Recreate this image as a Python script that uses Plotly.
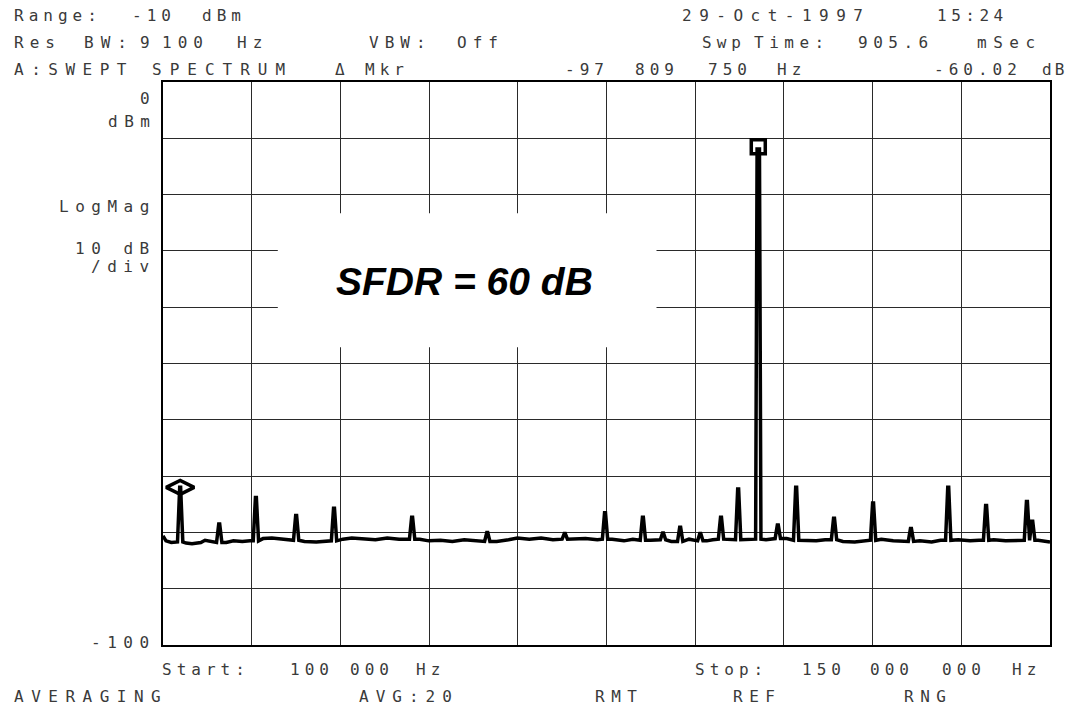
import plotly.graph_objects as go

# ---------------- data ----------------
floor_freq_mhz = [0.1, 0.6, 1.5, 2.2, 4.0, 5.0, 6.5, 7.2, 8.3, 10.8, 12.0, 13.5, 14.8, 17.0,
                  18.5, 20.0, 21.5, 24.0, 26.0, 27.5, 30.5, 32.0, 34.0, 36.0, 38.0, 40.0,
                  43.5, 45.0, 47.0, 49.0, 51.0, 53.0, 56.5, 58.5, 60.0, 62.0, 64.0, 66.0,
                  69.5, 71.5, 73.5, 76.0, 78.0, 79.5, 82.5, 83.5, 86.0, 89.0, 92.0, 93.0,
                  95.5, 98.5, 99.5, 102.0, 105.5, 108.5, 110.5, 112.0, 115.0, 117.0, 119.0,
                  121.5, 123.5, 125.0, 128.0, 130.0, 131.5, 134.5, 136.5, 138.0, 140.5,
                  142.5, 144.5, 148.0, 149.0, 150.0]
floor_dbm = [-80.6, -81.5, -81.8, -81.7, -81.9, -82.0, -81.8, -81.4, -81.7, -81.8, -81.5,
             -81.6, -81.5, -81.1, -81.0, -81.2, -81.4, -81.6, -81.7, -81.5, -81.2, -81.0,
             -81.1, -81.3, -81.0, -81.2, -81.2, -81.5, -81.4, -81.6, -81.3, -81.5, -81.6,
             -81.3, -81.0, -81.2, -81.0, -81.3, -81.2, -81.1, -81.3, -81.2, -81.5, -81.2,
             -81.4, -81.3, -81.6, -81.2, -81.5, -81.3, -81.2, -81.3, -81.2, -81.3, -81.1,
             -81.4, -81.5, -81.3, -81.6, -81.7, -81.4, -81.2, -81.5, -81.6, -81.5, -81.7,
             -81.4, -81.3, -81.5, -81.4, -81.3, -81.5, -81.4, -81.4, -81.6, -81.7]

spur_freq_mhz = [3.0, 9.6, 15.8, 22.6, 29.0, 42.2, 54.9, 68.0, 74.8, 81.2, 84.6, 87.5,
                 90.9, 94.4, 97.3, 104.0, 107.1, 113.5, 120.1, 126.5, 132.8, 139.2,
                 146.1, 147.0]
spur_dbm = [-72.0, -78.5, -73.8, -77.0, -75.7, -77.3, -80.0, -80.2, -76.5, -77.3, -80.1,
            -79.1, -80.2, -77.3, -72.3, -78.7, -72.0, -77.5, -74.8, -79.3, -72.0, -75.2,
            -74.5, -78.0]

carrier_freq_mhz = 100.7
carrier_dbm = -11.9

delta_marker_freq_mhz = 3.0
delta_marker_dbm = -72.0

start_mhz, stop_mhz = 0.1, 150.0
ref_dbm, bottom_dbm = 0, -100

# ---------------- build trace ----------------
def nearest_floor(f):
    i = min(range(len(floor_freq_mhz)), key=lambda k: abs(floor_freq_mhz[k] - f))
    return floor_dbm[i]

pts = list(zip(floor_freq_mhz, floor_dbm))
for f, lvl in zip(spur_freq_mhz, spur_dbm):
    b = nearest_floor(f)
    pts += [(f - 0.45, b), (f - 0.08, lvl), (f + 0.08, lvl), (f + 0.45, b)]
b = nearest_floor(carrier_freq_mhz)
pts += [(carrier_freq_mhz - 0.45, b), (carrier_freq_mhz - 0.2, carrier_dbm),
        (carrier_freq_mhz + 0.2, carrier_dbm), (carrier_freq_mhz + 0.45, b)]
pts.sort(key=lambda p: p[0])

fig = go.Figure()
fig.add_trace(go.Scatter(x=[p[0] for p in pts], y=[p[1] for p in pts], mode="lines",
                         line=dict(color="black", width=3.5), hoverinfo="skip",
                         showlegend=False))
fig.add_trace(go.Scatter(x=[carrier_freq_mhz], y=[carrier_dbm + 0.4], mode="markers",
                         marker=dict(symbol="square-open", size=14, color="black",
                                     line=dict(width=3.5, color="black")),
                         showlegend=False, hoverinfo="skip"))
fig.add_trace(go.Scatter(x=[delta_marker_freq_mhz], y=[delta_marker_dbm], mode="markers",
                         marker=dict(symbol="diamond-wide-open", size=20, color="black",
                                     line=dict(width=3.5, color="black")),
                         showlegend=False, hoverinfo="skip"))

# white label box covering grid
fig.add_shape(type="rect", xref="x", yref="y", x0=19.5, x1=83.5, y0=-47.1, y1=-23.3,
              fillcolor="white", line=dict(width=0), layer="above")
fig.add_annotation(x=51.0, y=-35.4, xref="x", yref="y", showarrow=False,
                   text="<b><i>SFDR = 60 dB</i></b>",
                   font=dict(family="Liberation Sans Narrow, Arial Narrow, Liberation Sans, Arial",
                             size=39, color="black"))

# ---------------- instrument text ----------------
W, H = 1078, 711
L, R, T, B = 163, 1050, 81.5, 645

def px(x):
    return (x - L) / (R - L)

def py(y):
    return (B - y) / (B - T)

TXT = dict(family="DejaVu Sans Mono, Liberation Mono, monospace", size=16, color="#3a3a3a")

def txt(s, x, y, anchor="left", ls=5):
    fig.add_annotation(x=px(x), y=py(y), xref="paper", yref="paper", showarrow=False,
                       xanchor=anchor, yanchor="middle",
                       text=f'<span style="letter-spacing:{ls}px">{s}</span>', font=TXT)

tokens = [
    ("Range:", 12, 15, 5), ("-10", 130, 15, 5), ("dBm", 200, 15, 5),
    ("29-Oct-1997", 680, 15, 7.5), ("15:24", 935, 15, 4.5),
    ("Res", 12, 42, 6), ("BW:", 82, 42, 7), ("9", 138, 42, 5), ("100", 160, 42, 6),
    ("Hz", 235, 42, 6),
    ("VBW:", 367, 42, 6), ("Off", 455, 42, 6),
    ("Swp", 700, 42, 5), ("Time:", 752, 42, 5.5), ("905.6", 856, 42, 5.5),
    ("mSec", 975, 42, 6.5),
    ("A:SWEPT", 12, 69, 7.5), ("SPECTRUM", 150, 69, 8), ("Δ", 333, 69, 5), ("Mkr", 363, 69, 5),
    ("-97", 563, 69, 5), ("809", 633, 69, 5), ("750", 706, 69, 5), ("Hz", 775, 69, 5),
    ("-60.02", 932, 69, 5), ("dB", 1040, 69, 3),
    ("Start:", 160, 670, 5), ("100", 288, 670, 5), ("000", 348, 670, 5), ("Hz", 414, 670, 5),
    ("Stop:", 693, 670, 5), ("150", 800, 670, 5), ("000", 868, 670, 5), ("000", 940, 670, 5),
    ("Hz", 1010, 670, 5),
    ("AVERAGING", 12, 697, 7.5), ("AVG:20", 357, 697, 7), ("RMT", 593, 697, 6.5),
    ("REF", 731, 697, 6.5), ("RNG", 902, 697, 6.5),
]
for s, x, y, ls in tokens:
    txt(s, x, y, ls=ls)

for s, y in [("0", 98), ("dBm", 121), ("LogMag", 206), ("10 dB", 248), ("/div", 266),
             ("-100", 642)]:
    txt(s, 158, y, anchor="right", ls=6.5)

fig.update_xaxes(range=[start_mhz, stop_mhz], tick0=start_mhz, dtick=(stop_mhz - start_mhz) / 10,
                 showgrid=True, gridcolor="#2a2a2a", gridwidth=1, zeroline=False,
                 showticklabels=False, ticks="", showline=True, mirror=True,
                 linecolor="black", linewidth=1.5)
fig.update_yaxes(range=[bottom_dbm, ref_dbm], tick0=0, dtick=10,
                 showgrid=True, gridcolor="#2a2a2a", gridwidth=1, zeroline=False,
                 showticklabels=False, ticks="", showline=True, mirror=True,
                 linecolor="black", linewidth=1.5)
fig.update_layout(width=W, height=H, margin=dict(l=L, r=W - R, t=T, b=H - B),
                  paper_bgcolor="white", plot_bgcolor="white", showlegend=False)

fig.write_html("out.html", config={"displayModeBar": False},
               post_script="document.body.style.margin='0px';"
                           "document.body.style.overflow='hidden';")
